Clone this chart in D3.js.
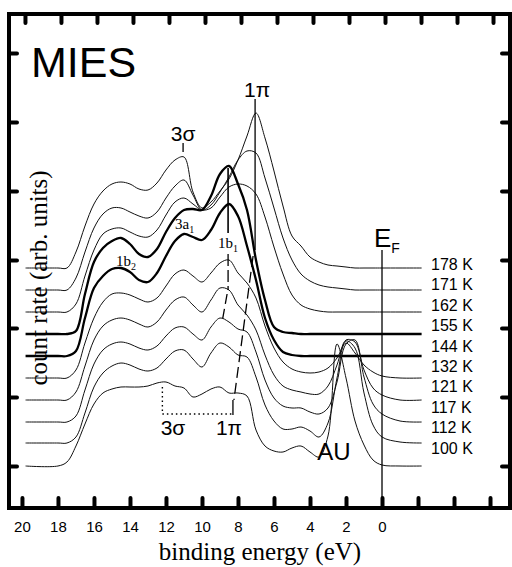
<!doctype html>
<html>
<head>
<meta charset="utf-8">
<script src="https://d3js.org/d3.v7.min.js"></script>
<style>
  body { margin: 0; background: #fff; }
  svg { display: block; }
  .curve { fill: none; stroke: #111; stroke-width: 1; }
  .curve.thick { stroke-width: 2.3; stroke: #000; }
  .sans { font-family: "Liberation Sans", Arial, sans-serif; }
  .serif { font-family: "Liberation Serif", "Times New Roman", serif; }
</style>
</head>
<body>
<svg width="512" height="567"></svg>
<script>
// binding energy grid (eV), shared by all spectra
var energies = [19.8, 18, 17.5, 17, 16.5, 16, 15.5, 15, 14.5, 14, 13.5, 13, 12.5, 12, 11.5, 11,
                10.5, 10, 9.5, 9, 8.5, 8, 7.5, 7, 6.5, 6, 5.5, 5, 4.5, 4, 3.5, 3,
                2.5, 2, 1.5, 1, 0.5, 0, -1, -2.2];

var temps = ["178 K", "171 K", "162 K", "155 K", "144 K", "132 K", "121 K", "117 K", "112 K", "100 K"];
var thickTemps = ["155 K", "144 K"];
// vertical offset of each spectrum (arb. units)
var offsets = [198, 176, 154, 132, 110, 88, 66, 44, 23, 0];

// count rate above offset (arb. units)
var s178 = [0,0,0,16, 42,64,77,84, 86,84,79,78, 85,98,108,111, 76,60,66,77, 89,108,132,155, 130,97,62,32, 22,11,6,3, 2,1,0,0, 0,0,0,0];
var s171 = [0,0,0,12, 38,62,76,82, 82,78,74,72, 78,92,104,110, 95,80,85,98, 113,130,139,137, 112,82,52,30, 16,9,5,3, 2,1,0,0, 0,0,0,0];
var s162 = [0,0,0,8, 36,62,78,83, 84,80,76,75, 82,97,110,114, 108,102,104,115, 125,128,126,118, 95,65,38,17, 7,3,1,0, 0,0,0,0, 0,0,0,0];
var s155 = [0,0,0,3, 40,72,86,93, 96,90,80,77, 85,102,116,124, 125,124,138,160, 168,150,124,74, 34,7,2,1, 0,0,0,0, 0,0,0,0, 0,0,0,0];
var s144 = [0,0,0,5, 38,68,80,87, 88,84,76,74, 83,100,115,122, 119,116,126,143, 152,140,110,76, 38,16,4,1, 0,0,0,0, 0,0,0,0, 0,0,0,0];
var s132 = [0,0,0,8, 35,60,76,84, 85,83,79,76, 80,92,104,108, 102,96,105,115, 118,105,95,80, 52,30,16,9, 6,5,6,10, 20,35,25,13, 6,2,0,0];
var s121 = [0,0,0,8, 34,60,74,80, 82,80,76,73, 78,90,100,103, 95,88,100,112, 110,95,85,70, 45,25,14,10, 8,6,6,14, 35,60,58,30, 12,5,0,0];
var s117 = [0,0,0,6, 32,58,72,78, 80,78,74,72, 76,86,94,95, 88,82,95,104, 100,93,90,70, 42,24,16,14, 14,10,8,14, 40,78,82,45, 18,8,1,0];
var s112 = [0,0,0,6, 30,56,70,77, 80,78,74,72, 75,84,92,93, 84,76,90,100, 96,88,86,66, 38,22,14,14, 16,12,6,20, 65,102,95,50, 18,6,1,0];
var s100 = [0,0,4,20, 42,62,73,77, 79,79,79,80, 83,84,80,78, 69,72,77,79, 73,73,70,36, 20,15,14,18, 20,14,9,30, 122,88,45,21, 6,1,0,0];
var series = [s178, s171, s162, s155, s144, s132, s121, s117, s112, s100];

var xTicks = [20, 18, 16, 14, 12, 10, 8, 6, 4, 2, 0, -2, -4, -6];
var xTickLabels = ["20", "18", "16", "14", "12", "10", "8", "6", "4", "2", "0"];
var yTicks = [0, 69, 138, 206, 275, 344, 413];

var svg = d3.select("svg");
var x = d3.scaleLinear().domain([20.72, -7.11]).range([9, 510]);
var y = d3.scaleLinear().domain([-42, 452]).range([508, 14]);

function styleTicks(g) {
    g.select(".domain").remove();
    g.selectAll(".tick line").attr("stroke", "#000").attr("stroke-width", 4).attr("stroke-linecap", "round");
    g.selectAll(".tick text").attr("class", "sans").attr("fill", "#000").style("font-size", "15px");
}

// axes (ticks point inward)
svg.append("g").attr("transform", "translate(0,508)")
   .call(d3.axisBottom(x).tickValues(xTicks).tickSize(-10).tickPadding(13)
        .tickFormat(function(d) { return xTickLabels[xTicks.indexOf(d)] || ""; }))
   .call(styleTicks);
svg.append("g").attr("transform", "translate(3,14)")
   .call(d3.axisTop(x).tickValues(xTicks).tickSize(-9).tickFormat(""))
   .call(styleTicks);
svg.append("g").attr("transform", "translate(9,0)")
   .call(d3.axisLeft(y).tickValues(yTicks).tickSize(-8).tickFormat(""))
   .call(styleTicks);
svg.append("g").attr("transform", "translate(510,0)")
   .call(d3.axisRight(y).tickValues(yTicks).tickSize(-8).tickFormat(""))
   .call(styleTicks);

svg.append("rect").attr("x", 9).attr("y", 14).attr("width", 501).attr("height", 494)
   .attr("fill", "none").attr("stroke", "#000").attr("stroke-width", 4);

// spectra
var line = d3.line().curve(d3.curveCatmullRom.alpha(0.5));
series.forEach(function(s, i) {
    var pts = s.map(function(v, j) { return [x(energies[j]), y(offsets[i] + v)]; });
    svg.append("path")
       .attr("class", "curve" + (thickTemps.indexOf(temps[i]) >= 0 ? " thick" : ""))
       .attr("d", line(pts));
});

// temperature labels
svg.append("g").selectAll("text").data(temps).enter().append("text")
   .attr("class", "sans").attr("x", 431)
   .attr("y", function(d, i) { return 270 + i * 20.4; })
   .style("font-size", "16px")
   .text(function(d) { return d; });

// Fermi level
svg.append("line").attr("x1", x(0)).attr("x2", x(0)).attr("y1", 250).attr("y2", 508)
   .attr("stroke", "#000").attr("stroke-width", 1.3);
var ef = svg.append("text").attr("class", "sans").attr("x", 374).attr("y", 247).style("font-size", "26px");
ef.append("tspan").text("E");
ef.append("tspan").attr("dy", 6).style("font-size", "14px").text("F");

// titles
svg.append("text").attr("class", "sans").attr("x", 31).attr("y", 77).style("font-size", "43px").text("MIES");
svg.append("text").attr("class", "serif").attr("x", 260).attr("y", 560)
   .attr("text-anchor", "middle").style("font-size", "25px").text("binding energy (eV)");
svg.append("text").attr("class", "serif").attr("text-anchor", "middle")
   .attr("transform", "translate(47,278) rotate(-90)")
   .style("font-size", "25px").text("count rate (arb. units)");

// peak annotations
function mark(x1, y1, x2, y2, w, dash) {
    svg.append("line").attr("x1", x1).attr("y1", y1).attr("x2", x2).attr("y2", y2)
       .attr("stroke", "#000").attr("stroke-width", w || 1.2)
       .attr("stroke-dasharray", dash || null);
}
function label(t, px, py, size, cls) {
    return svg.append("text").attr("class", cls || "sans").attr("x", px).attr("y", py)
              .attr("text-anchor", "middle").style("font-size", size + "px").text(t);
}
function subLabel(main, sub, px, py) {
    var t = svg.append("text").attr("class", "serif").attr("x", px).attr("y", py).style("font-size", "15px");
    t.append("tspan").text(main);
    t.append("tspan").attr("dy", 4).style("font-size", "10px").text(sub);
}

var e3s = 11.05, e1pi = 7.05, e1b1 = 8.55, e1piLow = 8.28, e3sLow = 12.2;

label("3\u03c3", x(e3s), 141, 21);
mark(x(e3s), 143, x(e3s), 152, 1.3);
label("1\u03c0", x(e1pi) + 2, 97, 21);
mark(x(e1pi), 99, x(e1pi), 250, 1.3);
mark(x(e1pi) - 2, 256, x(e1piLow) + 1, 400, 1.3, "11,5");
mark(x(e1piLow), 400, x(e1piLow), 415, 1.3);

mark(x(e1b1), 168, x(e1b1), 233, 1.6);
mark(x(e1b1), 254, x(e1b1), 290, 1.3, "12,4");
mark(x(e1b1) - 1, 294, x(e1b1) - 6, 322, 1.3, "10,5");
subLabel("1b", "1", 218, 248);
subLabel("3a", "1", 175, 229);
subLabel("1b", "2", 116, 266);

// bottom bracket
mark(x(e3sLow), 387, x(e3sLow), 414, 1.4, "1.5,3");
mark(x(e3sLow), 414, x(e1piLow), 414, 1.4, "1.5,3");
label("3\u03c3", 173, 435, 21);
label("1\u03c0", 229, 435, 21);
label("AU", 334, 460, 24);
</script>
</body>
</html>
